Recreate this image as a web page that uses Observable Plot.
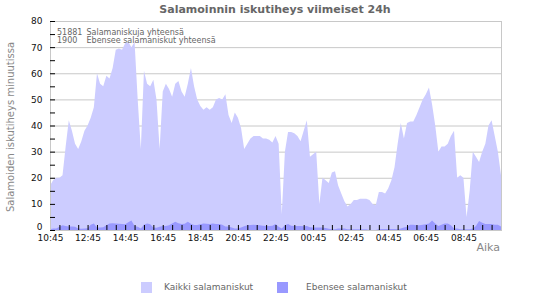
<!DOCTYPE html>
<html><head><meta charset="utf-8">
<script src="https://cdn.jsdelivr.net/npm/d3@7"></script>
<script src="https://cdn.jsdelivr.net/npm/@observablehq/plot@0.6"></script>
<style>
body{margin:0;background:#fff;font-family:"DejaVu Sans",sans-serif;}
#wrap{position:relative;width:550px;height:300px;overflow:hidden;}
#chart{position:absolute;left:0;top:0;}
.abs{position:absolute;white-space:nowrap;}
#title{left:0;width:550px;top:3px;text-align:center;font-weight:bold;font-size:11px;color:#666;}
#ylabel{left:10px;top:127px;font-size:10px;color:#888;transform:translate(-50%,-50%) rotate(-90deg);}
#xlabel{right:50px;top:241px;font-size:11px;color:#888;}
.note{left:57px;font-size:8px;color:#666;line-height:8px;}
.note span.n{display:inline-block;width:29.5px;}
.sw{width:11px;height:11px;}
.lt{font-size:9px;color:#666;top:282px;}
</style></head>
<body>
<div id="wrap">
  <div id="chart"></div>
  <div class="abs" id="title"></div>
  <div class="abs" id="ylabel"></div>
  <div class="abs" id="xlabel"></div>
  <div class="abs note" id="note1" style="top:28.5px"></div>
  <div class="abs note" id="note2" style="top:37px"></div>
  <div class="abs sw" id="sw1" style="left:141px;top:282px"></div>
  <div class="abs lt" id="lt1" style="left:164px"></div>
  <div class="abs sw" id="sw2" style="left:277px;top:282px"></div>
  <div class="abs lt" id="lt2" style="left:306px"></div>
</div>
<script>
// ---- data (10-minute samples, 10:45 -> 10:45 next day) ----
const titleText = "Salamoinnin iskutiheys viimeiset 24h";
const yAxisLabel = "Salamoiden iskutiheys minuutissa";
const xAxisLabel = "Aika";
const seriesNames = ["Kaikki salamaniskut", "Ebensee salamaniskut"];
const seriesColors = ["#ccccff", "#9999ff"];
const totals = [51881, 1900];
const totalLabels = ["Salamaniskuja yhteensä", "Ebensee salamaniskut yhteensä"];
const startTime = "2024-06-01T10:45:00Z";
const stepMinutes = 10;
const xTickLabels = ["10:45","12:45","14:45","16:45","18:45","20:45","22:45","00:45","02:45","04:45","06:45","08:45"];
const yTickValues = [0,10,20,30,40,50,60,70,80];
const yMinorTicks = [5,15,25,35,45,55,65,75];

const allStrikes = [
 17,19,20,20,21,32,42,38,33,31,
 34,38,40,43,47,60,56,55,59,58,
 62,69,69.5,69,71.5,72,70,72,50,31,
 61,56,55,57.5,50,31,53,56,54,51,
 56,57,53,51,56,62,55,50,47.5,46,
 47,46,47,50,50.5,50,52,44,41,45,
 43,39,31,33,35,36,36,36,35,35,
 34.5,33.5,36,33,6,30,37.5,37.5,37,36,
 34,38,42,28,29,30,10,20,19,18,
 22,22.5,17,14,11,9,10,11.5,11.5,12,
 12,12,11.5,10,9.5,14.5,14.5,14,16,19,
 24,33,41,35,41,41.5,41.5,44,47,50,
 52,54.5,48,40,30,32,32,33,36,38,
 20,21,20,5,15,30,28,26,30,33,
 40,42,36,30,21
];
const ebenseeStrikes = [
 0.3,0.6,0.6,1.2,1.8,1.5,1.3,1.3,1.2,0.6,
 0.5,0.6,0.7,2,2.5,1,1,1.1,1.8,2.5,
 2.6,2.5,2.4,2.3,2.2,3,3.6,1.5,1.2,0.6,
 2,2.5,2.2,1,0.9,1.2,1.5,1.5,1.8,2.5,
 3.2,2.6,2.3,2.4,3.2,2.4,1.9,1.9,2.2,2.5,
 2.4,2.3,2.5,2.3,2.3,2,1.3,1.3,1,0.6,
 0.6,1,1.4,1.8,1.9,2,1.9,1.8,1.6,1.5,
 1.5,1.6,2.3,1.2,0.6,1.8,2.3,1.6,1.5,1.5,
 1.5,1.4,1.5,1.1,1,1,1,1,0.8,0.5,
 0.3,0.3,0.6,0.6,0.6,0.3,0.3,0.3,0.3,0.3,
 0.3,0.3,0,0,0,0.3,0.4,0.4,0.4,0.4,
 0.4,0.3,0.6,1,1.2,2,2,1.8,1.8,2,
 2.2,2.5,3.6,2.5,1.5,2,2.5,2.5,1.8,0.6,
 0.6,0.3,0.3,0.3,0.3,0.6,1.5,3.4,2.8,2.3,
 2.3,2.3,2,2,1.3
];

// ---- build ----
const t0 = new Date(startTime).getTime();
const MIN = 60000;
const data = allStrikes.map((v, i) => ({
  t: new Date(t0 + i * stepMinutes * MIN),
  all: v,
  eb: ebenseeStrikes[i]
}));
const tEnd = new Date(t0 + 24 * 60 * MIN);
const labelTimes = xTickLabels.map((s, i) => new Date(t0 + i * 120 * MIN));
const minorTimes = d3.range(1, 48).map(i => new Date(t0 + i * 30 * MIN));

const W = 550, H = 300, mL = 50, mR = 49, mT = 21, mB = 70;
const innerW = W - mL - mR, innerH = H - mT - mB;

const chart = Plot.plot({
  width: W, height: H,
  marginLeft: mL, marginRight: mR, marginTop: mT, marginBottom: mB,
  style: {fontFamily: "DejaVu Sans, sans-serif", fontSize: "9px", background: "transparent", color: "#111"},
  x: {type: "utc", domain: [new Date(t0), tEnd]},
  y: {domain: [0, 80]},
  marks: [
    Plot.gridY(yTickValues.filter(d => d > 0 && d < 80), {stroke: "#c8c8c8", strokeOpacity: 1}),
    Plot.areaY(data, {x: "t", y: "all", fill: seriesColors[0]}),
    Plot.areaY(data, {x: "t", y: "eb", fill: seriesColors[1]}),
    Plot.frame({stroke: "#c8c8c8"}),
    Plot.tickY(yTickValues.concat(yMinorTicks), {y: d => d, stroke: "#000", insetRight: innerW - 5}),
    Plot.tickX(minorTimes, {x: d => d, stroke: "#000", insetTop: innerH - 5}),
    Plot.axisY(yTickValues.filter(d => d > 0), {tickSize: 0, tickPadding: 8, label: null, fill: "#111"}),
    Plot.axisY([0], {tickSize: 0, tickPadding: 8, label: null, fill: "#111", dy: -3}),
    Plot.axisX(labelTimes, {tickSize: 0, tickPadding: 4, label: null, fill: "#111",
      tickFormat: (d) => xTickLabels[labelTimes.findIndex(x => +x === +d)]})
  ]
});
document.getElementById("chart").appendChild(chart);

document.getElementById("title").textContent = titleText;
document.getElementById("ylabel").textContent = yAxisLabel;
document.getElementById("xlabel").textContent = xAxisLabel;
document.getElementById("note1").innerHTML = `<span class="n">${totals[0]}</span>${totalLabels[0]}`;
document.getElementById("note2").innerHTML = `<span class="n">${totals[1]}</span>${totalLabels[1]}`;
document.getElementById("sw1").style.background = seriesColors[0];
document.getElementById("sw2").style.background = seriesColors[1];
document.getElementById("lt1").textContent = seriesNames[0];
document.getElementById("lt2").textContent = seriesNames[1];
</script>
</body></html>
